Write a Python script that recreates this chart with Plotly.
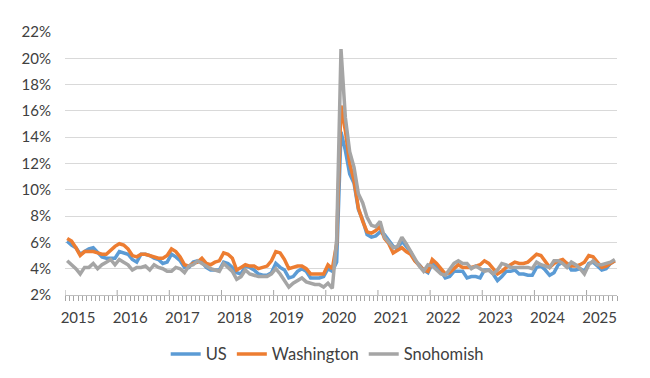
import plotly.graph_objects as go

years = ["2015", "2016", "2017", "2018", "2019", "2020", "2021", "2022", "2023", "2024", "2025"]

# Monthly unemployment rates (%), Jan 2015 - Jul 2025
us = [
    6.1, 5.8, 5.6, 5.1, 5.3, 5.5, 5.6, 5.2, 4.9, 4.8, 4.8, 4.8,
    5.3, 5.2, 5.1, 4.7, 4.5, 5.1, 5.1, 5.0, 4.8, 4.7, 4.4, 4.5,
    5.1, 4.9, 4.6, 4.1, 4.1, 4.5, 4.6, 4.5, 4.1, 3.9, 3.9, 3.9,
    4.5, 4.4, 4.1, 3.7, 3.6, 4.2, 4.1, 3.9, 3.6, 3.5, 3.5, 3.7,
    4.4, 4.1, 3.9, 3.3, 3.4, 3.8, 4.0, 3.8, 3.3, 3.3, 3.3, 3.4,
    4.0, 3.8, 4.5, 14.4, 13.0, 11.2, 10.5, 8.5, 7.7, 6.6, 6.4, 6.5,
    6.8, 6.6, 6.2, 5.7, 5.5, 6.1, 5.7, 5.3, 4.6, 4.3, 3.9, 3.7,
    4.4, 4.1, 3.8, 3.3, 3.4, 3.8, 3.8, 3.8, 3.3, 3.4, 3.4, 3.3,
    3.9, 3.9, 3.6, 3.1, 3.4, 3.8, 3.8, 3.9, 3.6, 3.6, 3.5, 3.5,
    4.1, 4.2, 3.9, 3.5, 3.7, 4.3, 4.5, 4.4, 3.9, 3.9, 4.0, 3.8,
    4.4, 4.5, 4.2, 3.9, 4.0, 4.4, 4.6,
]

washington = [
    6.3, 6.1, 5.6, 5.0, 5.3, 5.3, 5.3, 5.2, 5.1, 5.1, 5.4, 5.7,
    5.9, 5.8, 5.5, 5.0, 4.9, 5.1, 5.1, 5.0, 4.9, 4.8, 4.8, 5.0,
    5.5, 5.3, 4.9, 4.3, 4.2, 4.4, 4.5, 4.8, 4.4, 4.3, 4.5, 4.6,
    5.2, 5.1, 4.8, 3.9, 4.1, 4.3, 4.2, 4.2, 4.0, 4.1, 4.2, 4.6,
    5.3, 5.2, 4.7, 4.0, 4.1, 4.2, 4.2, 4.0, 3.6, 3.6, 3.6, 3.6,
    4.3, 4.0, 5.9, 16.4, 14.5, 12.0, 10.7, 8.6, 7.6, 6.8, 6.7, 6.9,
    7.2, 6.3, 5.9, 5.2, 5.4, 5.6, 5.3, 5.1, 4.6, 4.2, 3.9, 3.8,
    4.7, 4.4, 4.0, 3.6, 3.7, 4.0, 4.3, 4.1, 4.1, 4.1, 4.2, 4.3,
    4.6, 4.4, 4.0, 3.6, 3.8, 4.1, 4.3, 4.5, 4.4, 4.4, 4.5, 4.8,
    5.1, 5.0, 4.6, 4.1, 4.4, 4.6, 4.7, 4.4, 4.2, 4.2, 4.3, 4.5,
    5.0, 4.9, 4.5, 4.1, 4.2, 4.4, 4.6,
]

snohomish = [
    4.6, 4.3, 4.0, 3.6, 4.1, 4.1, 4.4, 4.0, 4.3, 4.5, 4.7, 4.3,
    4.7, 4.5, 4.3, 3.9, 4.1, 4.1, 4.2, 3.9, 4.3, 4.1, 4.0, 3.8,
    3.8, 4.1, 4.0, 3.7, 4.2, 4.3, 4.6, 4.4, 4.2, 4.0, 3.9, 3.8,
    4.4, 4.1, 3.8, 3.2, 3.4, 3.9, 3.6, 3.5, 3.4, 3.4, 3.4, 3.6,
    4.0, 3.6, 3.1, 2.6, 2.9, 3.1, 3.3, 3.0, 2.9, 2.8, 2.8, 2.6,
    2.9, 2.5, 6.2, 20.7, 15.5, 12.9, 11.7, 9.7, 9.0, 7.9, 7.3, 7.2,
    7.6, 6.4, 6.0, 5.6, 5.7, 6.4, 5.9, 5.3, 4.7, 4.2, 3.8, 4.3,
    4.2, 3.9, 3.6, 3.5, 3.9, 4.4, 4.6, 4.4, 4.4, 4.0, 4.2, 4.0,
    3.8, 3.9, 3.6, 3.9, 4.4, 4.3, 4.1, 4.1, 4.1, 4.1, 4.1, 4.0,
    4.5, 4.3, 4.2, 4.1, 4.6, 4.6, 4.4, 4.1, 4.5, 4.3, 4.0, 3.6,
    4.3, 4.6, 4.3, 4.3, 4.4, 4.5, 4.7,
]

n = len(us)
months = list(range(n))

fig = go.Figure()
series = [("US", us, "#5B9BD5"), ("Washington", washington, "#ED7D31"), ("Snohomish", snohomish, "#A5A5A5")]
for name, vals, col in series:
    fig.add_trace(go.Scatter(x=months, y=vals, mode="lines", name=name,
                             line=dict(color=col, width=3.5)))

# monthly tick marks; year labels placed by the ticks
tickvals = [k - 0.5 for k in range(n + 1)]
ticktext = [years[k // 12] if (k % 12 == 3 and k // 12 < len(years)) else "" for k in range(n + 1)]

# inner half of major (year) tick marks
for j in range(len(years)):
    fig.add_shape(type="line", xref="x", yref="y", x0=12 * j - 0.5, x1=12 * j - 0.5,
                  y0=2, y1=2.38, line=dict(color="#a6a6a6", width=1), layer="below")

fig.update_layout(
    template="none",
    width=642, height=370,
    margin=dict(l=57, r=33, t=24, b=83, autoexpand=False),
    paper_bgcolor="white", plot_bgcolor="white",
    font=dict(family="Lato, 'Open Sans', sans-serif", size=15, color="#404040"),
    showlegend=True,
    legend=dict(orientation="h", x=0.475, xanchor="center", y=-0.225, yanchor="middle",
                font=dict(size=16.5, color="#404040"), itemwidth=30, tracegroupgap=0,
                bgcolor="rgba(0,0,0,0)"),
    xaxis=dict(range=[-0.5, n - 0.5], tickmode="array", tickvals=tickvals, ticktext=ticktext,
               ticks="outside", ticklen=5, tickcolor="#a6a6a6", tickwidth=1,
               showline=True, linecolor="#bfbfbf", linewidth=1, showgrid=False,
               zeroline=False, ticklabelstandoff=4, automargin=False),
    yaxis=dict(range=[2, 22], tickmode="array", tickvals=list(range(2, 23, 2)),
               ticktext=[f"{v}%" for v in range(2, 23, 2)],
               showgrid=True, gridcolor="#d9d9d9", gridwidth=1, zeroline=False,
               showline=False, ticks="outside", ticklen=10, tickcolor="rgba(0,0,0,0)",
               automargin=False),
)

fig.write_html("out.html")
